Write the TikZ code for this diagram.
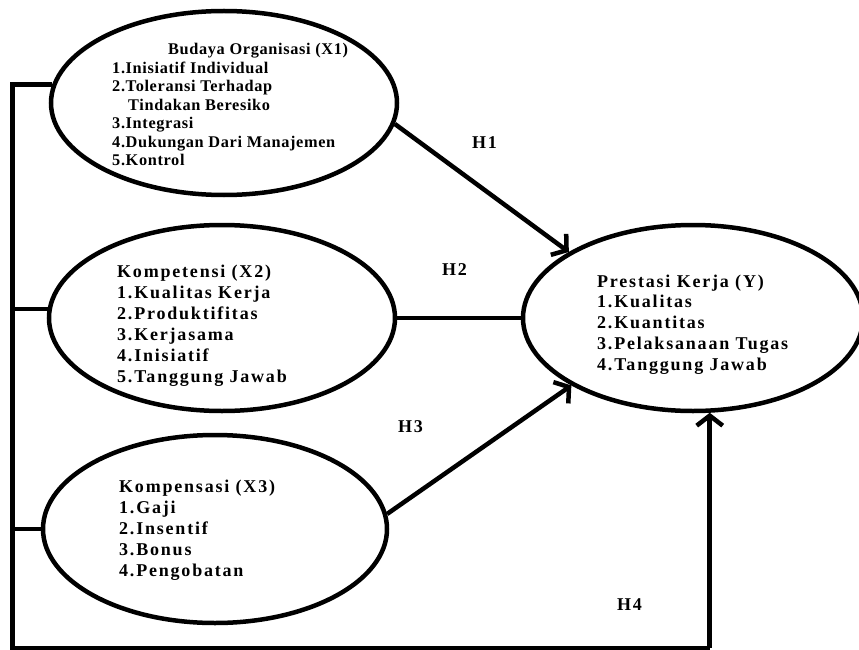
\documentclass[tikz,border=0pt]{standalone}
\usepackage{fontspec}
\setmainfont{Liberation Serif}
\newfontfamily\widefont{Liberation Serif}[LetterSpace=10]
\newfontfamily\midfont{Liberation Serif}[LetterSpace=4]
\usetikzlibrary{shapes.geometric,arrows.meta}
\tikzset{
  var/.style={ellipse, draw, line width=4.5pt, inner sep=0pt},
  link/.style={line width=4.5pt},
  arr/.style={line width=4.5pt, -{Straight Barb[length=10pt,width=26pt,line width=4.5pt]}},
  items/.style={anchor=base west, inner sep=0pt, align=left},
  hlab/.style={anchor=base west, inner sep=0pt, font=\widefont\bfseries\fontsize{18}{20}\selectfont},
}
\begin{document}
\begin{tikzpicture}[x=1pt,y=-1pt]
\useasboundingbox (0,0) rectangle (859,650);
% ellipses
\node[var, minimum width=346pt, minimum height=184pt] (x1) at (224,103) {};
\node[var, minimum width=346pt, minimum height=186pt] (x2) at (222,318) {};
\node[var, minimum width=344pt, minimum height=188pt] (x3) at (215,529) {};
\node[var, minimum width=340pt, minimum height=186pt] (y) at (693,318) {};
% texts
\node[items] (t1) at (112,55) {\midfont\bfseries\fontsize{16.3}{18.5}\selectfont
  \vtop{\hbox{\hspace*{56pt}Budaya Organisasi (X1)}
        \hbox{1.Inisiatif Individual}
        \hbox{2.Toleransi Terhadap}
        \hbox{\hspace*{16pt}Tindakan Beresiko}
        \hbox{3.Integrasi}
        \hbox{4.Dukungan Dari Manajemen}
        \hbox{5.Kontrol}}};
\node[items] (t2) at (117,277) {\widefont\bfseries\fontsize{18}{21}\selectfont
  \vtop{\hbox{Kompetensi (X2)}
        \hbox{1.Kualitas Kerja}
        \hbox{2.Produktifitas}
        \hbox{3.Kerjasama}
        \hbox{4.Inisiatif}
        \hbox{5.Tanggung Jawab}}};
\node[items] (t3) at (119,492) {\widefont\bfseries\fontsize{18}{21}\selectfont
  \vtop{\hbox{Kompensasi (X3)}
        \hbox{1.Gaji}
        \hbox{2.Insentif}
        \hbox{3.Bonus}
        \hbox{4.Pengobatan}}};
\node[items] (ty) at (597,287) {\widefont\bfseries\fontsize{18}{20.75}\selectfont
  \vtop{\hbox{Prestasi Kerja (Y)}
        \hbox{1.Kualitas}
        \hbox{2.Kuantitas}
        \hbox{3.Pelaksanaan Tugas}
        \hbox{4.Tanggung Jawab}}};
% hypothesis labels
\node[hlab] (h1) at (472,148) {H1};
\node[hlab] (h2) at (442,275) {H2};
\node[hlab] (h3) at (398,432) {H3};
\node[hlab] (h4) at (617,610) {H4};
% connectors
\draw[arr] (x1.-7.5) -- (y.152.5);
\draw[link] (x2.east) -- (y.west);
\draw[arr] (x3.5.4) -- (y.209.3);
% left bus
\coordinate (tl) at (x1.174.3 -| 12,0);
\coordinate (bl) at (12,648);
\coordinate (br) at (y.-80.8 |- bl);
\draw[link, line width=5pt, line join=miter] (x1.174.3) -- (tl) -- (bl) -- (br);
\draw[arr] (br) -- (y.-80.8);
\draw[link] (x2.177) -- (x2.177 -| tl);
\draw[link] (x3.west) -- (x3.west -| tl);
\end{tikzpicture}
\end{document}
